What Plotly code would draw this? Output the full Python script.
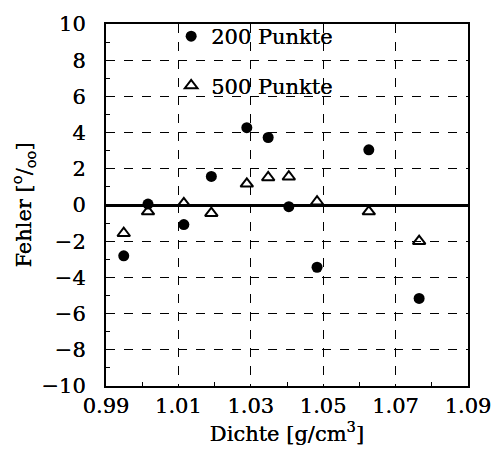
import plotly.graph_objects as go

dichte = [0.9949, 1.0016, 1.0115, 1.0191, 1.0289, 1.0348, 1.0405, 1.0483, 1.0626, 1.0765]
fehler_200 = [-2.81, 0.05, -1.08, 1.58, 4.27, 3.73, -0.09, -3.44, 3.05, -5.16]
fehler_500 = [-1.56, -0.36, 0.09, -0.45, 1.17, 1.52, 1.56, 0.18, -0.36, -2.0]

x_ticks = [0.99, 1.01, 1.03, 1.05, 1.07, 1.09]
x_ticklabels = ["0.99", "1.01", "1.03", "1.05", "1.07", "1.09"]
y_ticks = [-10, -8, -6, -4, -2, 0, 2, 4, 6, 8, 10]

FONT = "DejaVu Serif"
FS = 21

def f(size=FS):
    return dict(family=FONT, size=size, color="#000000",
                shadow="0px 0px 0.6px #000000")

fig = go.Figure()
fig.add_trace(go.Scatter(
    x=dichte, y=fehler_200, mode="markers", name="200 Punkte", legendgroup="a",
    marker=dict(symbol="circle", size=11, color="black"),
))
fig.add_trace(go.Scatter(
    x=dichte, y=fehler_500, mode="markers", name="500 Punkte", legendgroup="b",
    marker=dict(symbol="triangle-up-open", size=11, color="black",
                line=dict(width=2, color="black")),
))

fig.update_layout(
    width=503, height=453,
    margin=dict(l=106, r=25, t=14, b=67),
    paper_bgcolor="white", plot_bgcolor="white",
    font=f(),
    showlegend=True,
    legend=dict(x=0.18, y=1.022, xanchor="left", yanchor="top",
                bgcolor="rgba(0,0,0,0)", borderwidth=0,
                font=f(),
                itemwidth=30, tracegroupgap=19),
)

fig.update_xaxes(
    range=[0.99, 1.09], tickvals=x_ticks, ticktext=x_ticklabels,
    showline=True, linecolor="black", linewidth=2, mirror=True,
    showgrid=True, gridcolor="black", griddash="dash", gridwidth=1,
    zeroline=False, ticks="", ticklen=0,
    minor=dict(tickvals=[1.00, 1.02, 1.04, 1.06, 1.08], ticks="inside",
               ticklen=4, tickcolor="black", showgrid=False),
    title=dict(text="Dichte [g/cm<sup>3</sup>]", standoff=4, font=f()),
    tickfont=f(),
)
fig.update_yaxes(
    range=[-10, 10], tickvals=y_ticks,
    showline=True, linecolor="black", linewidth=2, mirror=True,
    showgrid=True, gridcolor="black", griddash="dash", gridwidth=1,
    zeroline=True, zerolinecolor="black", zerolinewidth=2.5,
    ticks="", ticklen=0, ticklabelstandoff=14,
    minor=dict(tickvals=[-9, -7, -5, -3, -1, 1, 3, 5, 7, 9], ticks="inside",
               ticklen=4, tickcolor="black", showgrid=False),
    title=dict(text="Fehler [<sup>o</sup>/<sub>oo</sub>]", standoff=4, font=f()),
    tickfont=f(),
)

fig.write_html("out.html")
